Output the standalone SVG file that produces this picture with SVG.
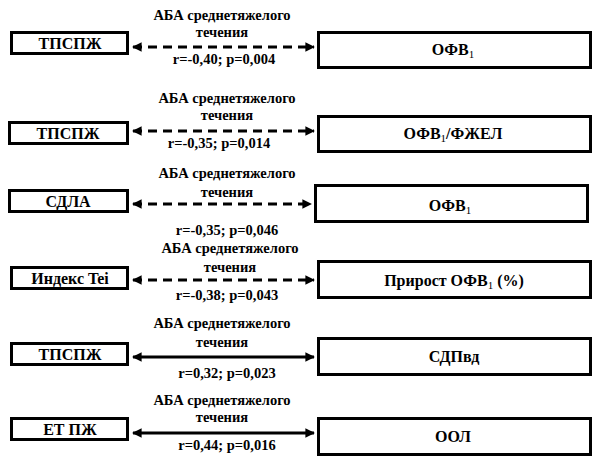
<svg xmlns="http://www.w3.org/2000/svg" width="604" height="466" viewBox="0 0 604 466">
<style>
.box{fill:#fff;stroke:#000;stroke-width:3}
text{font-family:'Liberation Serif','Times New Roman','DejaVu Serif',serif;font-weight:bold;text-anchor:middle;fill:#000}
.t{font-size:16px}
.l{font-size:14.5px}
.sub{font-size:11px;font-weight:normal}
.c{stroke:#000;stroke-width:3;fill:none;marker-start:url(#a);marker-end:url(#a)}
.d{stroke-dasharray:9 6}
</style>
<defs>
<marker id="a" viewBox="0 0 10 10" refX="9" refY="5" markerWidth="3.2" markerHeight="3.2" orient="auto-start-reverse" markerUnits="strokeWidth">
<path d="M0,0 L10,5 L0,10 z" fill="#000"/>
</marker>
</defs>
<g id="connectors">
<line class="c d" x1="133" y1="47" x2="314" y2="47"/>
<line class="c d" x1="133" y1="131" x2="314" y2="131"/>
<line class="c d" x1="133" y1="204" x2="311" y2="204"/>
<line class="c d" x1="133" y1="280" x2="314" y2="280"/>
<line class="c" x1="133" y1="357" x2="314" y2="357"/>
<line class="c" x1="133" y1="433" x2="314" y2="433"/>
</g>
<g id="labels">
<text class="l" x="222" y="20">АБА среднетяжелого</text>
<text class="l" x="222" y="37">течения</text>
<text class="l" x="224" y="64">r=-0,40; p=0,004</text>
<text class="l" x="227" y="103">АБА среднетяжелого</text>
<text class="l" x="227" y="120">течения</text>
<text class="l" x="219" y="148">r=-0,35; p=0,014</text>
<text class="l" x="227" y="178">АБА среднетяжелого</text>
<text class="l" x="227" y="197">течения</text>
<text class="l" x="227" y="235">r=-0,35; p=0,046</text>
<text class="l" x="230" y="253">АБА среднетяжелого</text>
<text class="l" x="230" y="272">течения</text>
<text class="l" x="227" y="300">r=-0,38; p=0,043</text>
<text class="l" x="222" y="328">АБА среднетяжелого</text>
<text class="l" x="222" y="347">течения</text>
<text class="l" x="227" y="378">r=0,32; p=0,023</text>
<text class="l" x="222" y="405">АБА среднетяжелого</text>
<text class="l" x="222" y="422">течения</text>
<text class="l" x="227" y="450">r=0,44; p=0,016</text>
</g>
<g id="n1"><rect class="box" x="11.5" y="32.5" width="116" height="21"/><text class="t" x="70" y="49">ТПСПЖ</text></g>
<g id="n2"><rect class="box" x="318.5" y="32.5" width="272" height="35"/><text class="t" x="453" y="55">ОФВ<tspan class="sub" dy="3">1</tspan></text></g>
<g id="n3"><rect class="box" x="9.5" y="122.5" width="118" height="21"/><text class="t" x="68" y="139">ТПСПЖ</text></g>
<g id="n4"><rect class="box" x="318.5" y="116.5" width="272" height="35"/><text class="t" x="453" y="139">ОФВ<tspan class="sub" dy="3">1</tspan><tspan dy="-3">/ФЖЕЛ</tspan></text></g>
<g id="n5"><rect class="box" x="9.5" y="190.5" width="118" height="21"/><text class="t" x="68" y="207">СДЛА</text></g>
<g id="n6"><rect class="box" x="315.5" y="185.5" width="272" height="36"/><text class="t" x="450" y="211">ОФВ<tspan class="sub" dy="3">1</tspan></text></g>
<g id="n7"><rect class="box" x="11.5" y="267.5" width="116" height="21"/><text class="t" x="70" y="284">Индекс Tei</text></g>
<g id="n8"><rect class="box" x="318.5" y="261.5" width="272" height="36"/><text class="t" x="454" y="286">Прирост ОФВ<tspan class="sub" dy="3">1</tspan><tspan dy="-3"> (%)</tspan></text></g>
<g id="n9"><rect class="box" x="11.5" y="343.5" width="116" height="21"/><text class="t" x="70" y="360">ТПСПЖ</text></g>
<g id="n10"><rect class="box" x="318.5" y="338.5" width="272" height="36"/><text class="t" x="454" y="362">СДПвд</text></g>
<g id="n11"><rect class="box" x="11.5" y="418.5" width="116" height="21"/><text class="t" x="70" y="435">ЕТ ПЖ</text></g>
<g id="n12"><rect class="box" x="318.5" y="418.5" width="272" height="36"/><text class="t" x="453" y="442">ООЛ</text></g>
</svg>
